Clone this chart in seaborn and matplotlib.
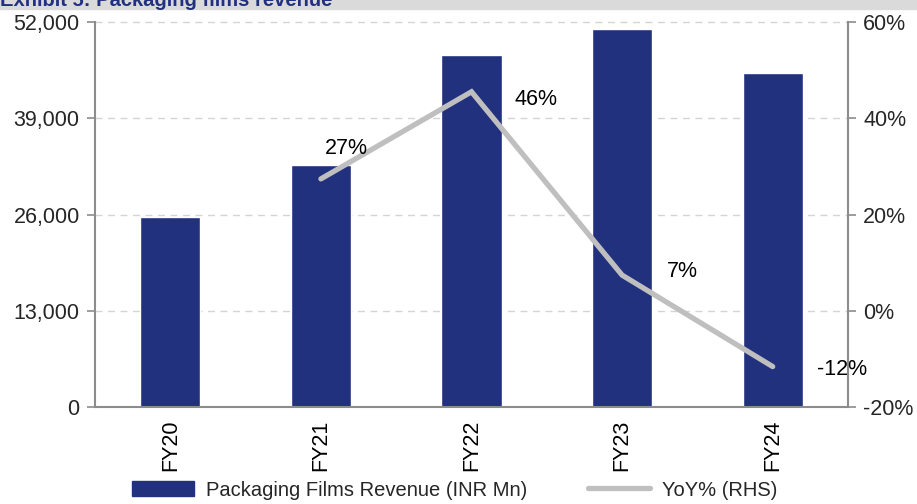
import matplotlib
matplotlib.use("Agg")
import matplotlib.pyplot as plt
from matplotlib.patches import Rectangle
from matplotlib.lines import Line2D
import seaborn as sns
import pandas as pd
import numpy as np

years = ["FY20", "FY21", "FY22", "FY23", "FY24"]
revenue = [25650, 32700, 47550, 51050, 45100]
yoy_years = ["FY21", "FY22", "FY23", "FY24"]
yoy = [27.4, 45.5, 7.4, -11.6]
yoy_labels = ["27%", "46%", "7%", "-12%"]
left_ticks = [0, 13000, 26000, 39000, 52000]
right_ticks = [-20, 0, 20, 40, 60]

BAR = "#22317e"
LINE = "#bfbfbf"
AXIS = "#8c8c8c"

sns.set_theme(style="white")
plt.rcParams["font.family"] = ["Liberation Sans", "DejaVu Sans"]

fig = plt.figure(figsize=(9.17, 5.04), dpi=100)
ax = fig.add_axes([95 / 917, 1 - 407 / 504, (848 - 95) / 917, 385 / 504])

df = pd.DataFrame({"year": years, "revenue": revenue})
sns.barplot(data=df, x="year", y="revenue", color=BAR, width=0.4,
            saturation=1, ax=ax, zorder=2)
ax.set_xlim(-0.5, len(years) - 0.5)
ax.set_ylim(0, 52000)
ax.set_yticks(left_ticks)
ax.set_yticklabels([f"{v:,}" for v in left_ticks])
ax.set_xlabel("")
ax.set_ylabel("")
ax.set_xticks(range(len(years)))
ax.set_xticklabels(years, rotation=90)
ax.set_xticks(np.arange(-0.5, len(years)), minor=True)
ax.tick_params(axis="x", which="major", length=0, pad=9, labelsize=15.5, colors="black")
ax.tick_params(axis="x", which="minor", length=6, width=1.2, color=AXIS, direction="out")
ax.tick_params(axis="y", length=6, width=1.2, color=AXIS, direction="out",
               labelsize=15.5, pad=5)
for v in left_ticks[1:]:
    ax.axhline(v, color="#d4d4d4", linestyle=(0, (5, 4)), linewidth=1,
               zorder=1, clip_on=False)
for s in ["top", "right"]:
    ax.spines[s].set_visible(False)
for s in ["left", "bottom"]:
    ax.spines[s].set_color(AXIS)
    ax.spines[s].set_linewidth(1.5)

ax2 = ax.twinx()
pos = [years.index(y) for y in yoy_years]
ldf = pd.DataFrame({"pos": pos, "yoy": yoy})
sns.lineplot(data=ldf, x="pos", y="yoy", color=LINE, linewidth=3.8, ax=ax2,
             solid_capstyle="round", solid_joinstyle="miter", zorder=3)
ax2.set_xlim(-0.5, len(years) - 0.5)
ax2.set_ylim(-20, 60)
ax2.set_yticks(right_ticks)
ax2.set_yticklabels([f"{v}%" for v in right_ticks])
ax2.set_ylabel("")
ax2.set_xlabel("")
ax2.tick_params(axis="y", length=6, width=1.2, color=AXIS, direction="out",
                labelsize=15.5, pad=5)
for s in ["top", "left", "bottom"]:
    ax2.spines[s].set_visible(False)
ax2.spines["right"].set_color(AXIS)
ax2.spines["right"].set_linewidth(1.5)

offsets = [(0.17, 6.4), (0.43, -1.7), (0.40, 0.7), (0.46, -0.7)]
for p, v, lab, (dx, dy) in zip(pos, yoy, yoy_labels, offsets):
    ax2.text(p + dx, v + dy, lab, fontsize=15.5, color="black",
             ha="center", va="center", clip_on=False)

# header band
fig.patches.append(Rectangle((0, 1 - 9 / 504), 1, 9 / 504,
                             transform=fig.transFigure, color="#dadada", zorder=0))
fig.text(0.0, 1 - 1 / 504, "Exhibit 5: Packaging films revenue", color="#22317e",
         fontsize=14.5, fontweight="bold", ha="left", va="center")

handles = [Rectangle((0, 0), 1, 1, color=BAR),
           Line2D([0], [0], color=LINE, linewidth=3.8)]
fig.legend(handles, ["Packaging Films Revenue (INR Mn)", "YoY% (RHS)"],
           loc="center", bbox_to_anchor=(0.496, 1 - 490 / 504), ncol=2, frameon=False,
           fontsize=14.5, handlelength=3.1, columnspacing=3.0, handletextpad=0.6)

fig.savefig("out.png", dpi=100)
